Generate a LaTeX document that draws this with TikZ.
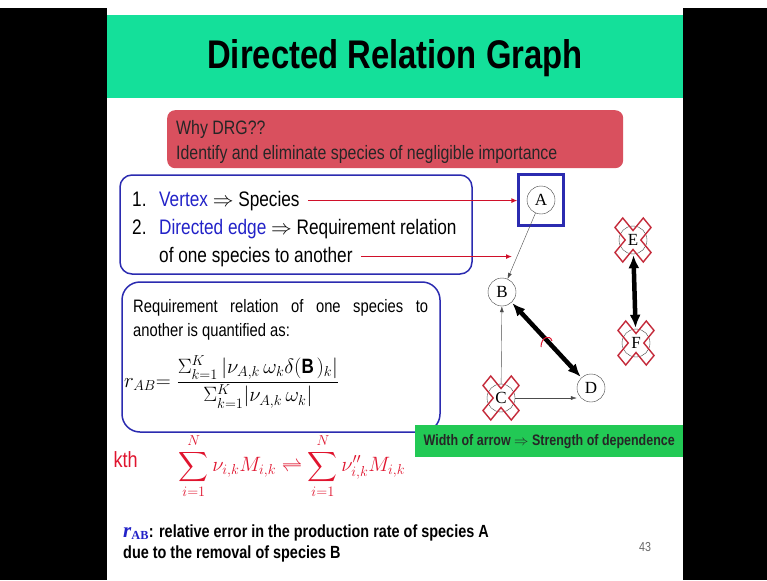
\documentclass[tikz,border=0pt]{standalone}
\usepackage{exscale}
\usepackage{fontspec}
\setmainfont{Liberation Sans}[FakeStretch=0.82]
\newfontfamily\nodefont{Liberation Serif}
\usetikzlibrary{arrows.meta,positioning}

\definecolor{slidegreen}{HTML}{14E09A}
\definecolor{whyred}{HTML}{D9505E}
\definecolor{boxblue}{HTML}{2B2BB0}
\definecolor{itemblue}{HTML}{2222C8}
\definecolor{arrowred}{HTML}{D0102A}
\definecolor{inkred}{HTML}{E0142E}
\definecolor{notegreen}{HTML}{22C955}
\definecolor{crossred}{HTML}{C42A3A}

\tikzset{
  txt/.style={anchor=base west,inner sep=0pt},
  species/.style={circle,draw=black!75,thin,minimum size=28pt,inner sep=0pt,
    font=\nodefont\fontsize{17}{17}\selectfont},
  infobox/.style={draw=boxblue,line width=1.5pt,rounded corners=12pt},
  pointer/.style={-{Latex[length=6pt,width=5pt]},arrowred,line width=1.8pt},
  thinedge/.style={-{Latex[length=6pt,width=4pt]},black!70,thin},
  strongedge/.style={{Latex[length=13pt,width=11pt]}-{Latex[length=13pt,width=11pt]},
    line width=4.5pt,shorten <=1pt,shorten >=1pt},
  crossmark/.style={draw=crossred,line width=1.4pt},
}

% red outlined X over a dropped species
\newcommand{\crossout}[1]{%
  \draw[crossmark,shift={(#1)},yscale=1.22,rotate=45]
    (5.5,20) -- (5.5,5.5) -- (20,5.5) -- (20,-5.5) -- (5.5,-5.5) -- (5.5,-20)
    -- (-5.5,-20) -- (-5.5,-5.5) -- (-20,-5.5) -- (-20,5.5) -- (-5.5,5.5)
    -- (-5.5,20) -- cycle;}

\begin{document}
\begin{tikzpicture}[x=1pt,y=-1pt]
\useasboundingbox (0,0) rectangle (767,580);
\fill[white] (0,0) rectangle (767,580);
\fill[black] (0,8) rectangle (107,580);
\fill[black] (683,8) rectangle (767,580);

% title band
\fill[slidegreen] (107,15) rectangle (683,98);
\node[font=\bfseries\fontsize{40}{40}\selectfont] (title) at (395,58) {Directed Relation Graph};

% why box
\node[fill=whyred,rounded corners=8pt,minimum width=456pt,minimum height=58pt,
  anchor=north west] (why) at (167,110) {};
\node[txt,font=\fontsize{19.4}{19.4}\selectfont,text=black!85] (whyq) at (176,135) {Why DRG??};
\node[txt,font=\fontsize{19.4}{19.4}\selectfont,text=black!85] (whya) at (176,160)
  {Identify and eliminate species of negligible importance};

% definitions
\draw[infobox] (120,175) rectangle (472,274);
\node[txt,font=\fontsize{21}{21}\selectfont] (vertex) at (132,206)
  {\makebox[27pt][l]{1.}\textcolor{itemblue}{Vertex} $\Rightarrow$ Species};
\node[txt,font=\fontsize{21}{21}\selectfont] (edge) at (132,234)
  {\makebox[27pt][l]{2.}\textcolor{itemblue}{Directed edge} $\Rightarrow$ Requirement relation};
\node[txt,font=\fontsize{21}{21}\selectfont] (another) at (159,262) {of one species to another};

% graph
\node[species] (A) at (541,200) {A};
\node[draw=boxblue,line width=2.2pt,minimum width=45pt,minimum height=51pt] (Abox) at (541,200) {};
\node[species] (B) at (502,292) {B};
\node[species] (C) at (501,398) {C};
\node[species] (D) at (591,388) {D};
\node[species] (E) at (633,240) {E};
\node[species] (F) at (636,343) {F};
\coordinate (tipB) at (512,257);

\draw[pointer] ([xshift=8pt]vertex.east) -- (vertex.east -| Abox.west);
\draw[pointer] ([xshift=8pt]another.east) -- (another.east -| tipB);

\draw[thinedge] (A) -- (B);
\draw[thinedge] (C) -- (B);
\draw[thinedge] (C) -- (C -| D.west);
\draw[strongedge] (B) -- (D);
\draw[strongedge] (E) -- (F);
\draw[inkred,line width=1pt] (541,347) .. controls (541,337) and (550,334) .. (552,341);

\crossout{C}
\crossout{E}
\crossout{F}

% quantification
\draw[infobox,rounded corners=18pt] (122,282) rectangle (440,432);
\node[txt,font=\fontsize{18}{18}\selectfont] (req1) at (133,312)
  {\makebox[295pt][s]{Requirement relation of one species to}};
\node[txt,font=\fontsize{18}{18}\selectfont] (req2) at (133,336) {another is quantified as:};
\node[anchor=west,inner sep=0pt,font=\fontsize{20.74}{24}\selectfont] (rab) at (124,382)
  {$\displaystyle r_{AB}{=}\;\frac{\Sigma_{k=1}^{K}\left|\nu_{A,k}\,\omega_k\delta(\mathbf{B})_k\right|}
   {\Sigma_{k=1}^{K}|\nu_{A,k}\,\omega_k|}$};

% note
\node[fill=notegreen,minimum width=268pt,minimum height=32pt,anchor=north west,inner sep=0pt,
  font=\bfseries\fontsize{15.2}{15.2}\selectfont,text=black!85] (note) at (415,425)
  {Width of arrow $\Rightarrow$ Strength of dependence};

% handwritten reaction
\node[anchor=west,text=inkred,font=\fontsize{22}{22}\selectfont] (kth) at (110,460) {kth};
\node[text=inkred,font=\fontsize{20.74}{24}\selectfont] (rxn) at (292,466)
  {$\displaystyle\sum_{i=1}^{N}\nu_{i,k}M_{i,k}\rightleftharpoons\sum_{i=1}^{N}\nu''_{i,k}M_{i,k}$};

% footer
\node[txt,font=\bfseries\fontsize{17.6}{17.6}\selectfont] (err1) at (123,537)
  {\textcolor{itemblue}{{\nodefont\bfseries\itshape\fontsize{21}{21}\selectfont r}\textsubscript{\nodefont\bfseries AB}}: relative error in the production rate of species A};
\node[txt,font=\bfseries\fontsize{17.6}{17.6}\selectfont] (err2) at (123,558) {due to the removal of species B};
\node[text=black!60,font=\fontsize{13}{13}\selectfont] (page) at (645,547) {43};
\end{tikzpicture}
\end{document}
